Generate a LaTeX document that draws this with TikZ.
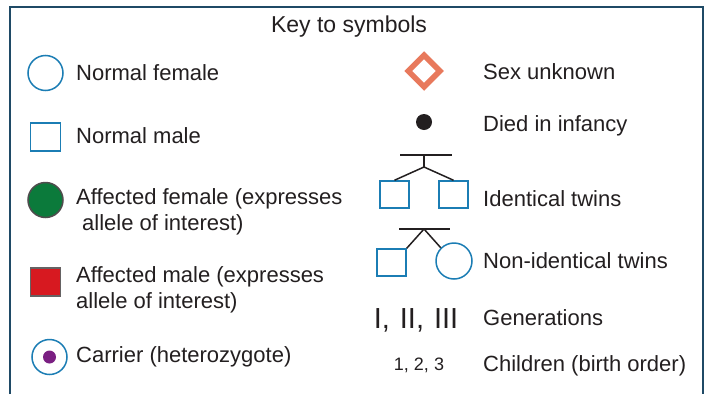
\documentclass[tikz,border=0pt]{standalone}
\usepackage{fontspec}
\setmainfont{Liberation Sans}
\usetikzlibrary{shapes.geometric}
\definecolor{frame}{HTML}{1F4A66}
\definecolor{sblue}{HTML}{1B7DB4}
\definecolor{sgreen}{HTML}{0B7A3B}
\definecolor{sred}{HTML}{D71920}
\definecolor{spurple}{HTML}{7A1F82}
\definecolor{sorange}{HTML}{E8795C}
\definecolor{txt}{HTML}{231F20}
\begin{document}
\begin{tikzpicture}[x=1pt,y=-1pt,
  lbl/.style={anchor=west,inner sep=0pt,text=txt,font=\fontsize{22}{26}\selectfont,align=left},
  fem/.style={circle,draw=sblue,line width=1.5pt,minimum size=35pt,inner sep=0pt},
  mal/.style={rectangle,draw=sblue,line width=1.5pt,minimum width=30pt,minimum height=28pt,inner sep=0pt},
  link/.style={draw=txt,line width=1.5pt}]
\useasboundingbox (0,0) rectangle (706,394);
\fill[white] (0,0) rectangle (706,394);
\draw[frame,line width=2pt] (10,394) -- (10,7) -- (703,7) -- (703,394);
\node[lbl,anchor=center,font=\fontsize{23}{26}\selectfont] (title) at (349,27) {Key to symbols};
% left column
\node[fem] (nf) at (45.5,73) {};
\node[lbl] (nft) at (76,73) {Normal female};
\node[mal] (nm) at (45.5,137) {};
\node[lbl] (nmt) at (76,136) {Normal male};
\node[fem,fill=sgreen,draw=txt!80] (af) at (45.5,200) {};
\node[lbl] (aft) at (76,212) {Affected female (expresses\\\hspace*{6pt}allele of interest)};
\node[mal,fill=sred,draw=txt!70] (am) at (45.5,282) {};
\node[lbl] (amt) at (76,290) {Affected male (expresses\\allele of interest)};
\node[fem] (cr) at (49.5,357) {};
\fill[spurple] (cr.center) circle (6.5pt);
\node[lbl] (crt) at (76,357) {Carrier (heterozygote)};
% right column
\node[diamond,draw=sorange,line width=5.5pt,minimum size=34pt,inner sep=0pt] (su) at (424,71) {};
\node[lbl] (sut) at (483,72) {Sex unknown};
\node[circle,fill=txt,minimum size=16pt,inner sep=0pt] (di) at (424,122) {};
\node[lbl] (dit) at (483,126) {Died in infancy};
% identical twins
\coordinate (ibl) at (400,155);
\coordinate (ibr) at (452,155);
\coordinate (itop) at (424,155);
\coordinate (istem) at (424,167);
\node[mal,minimum width=29pt,minimum height=27pt] (it1) at (394.5,194.5) {};
\node[mal,minimum width=29pt,minimum height=27pt] (it2) at (453.5,194.5) {};
\draw[link] (ibl) -- (ibr);
\draw[link] (itop) -- (istem);
\draw[link] (istem) -- (it1.north);
\draw[link] (istem) -- (it2.north);
\node[lbl] (itt) at (483,199) {Identical twins};
% non-identical twins
\coordinate (nbl) at (399,229);
\coordinate (nbr) at (450,229);
\coordinate (nbc) at (424,229);
\node[mal,minimum width=29pt,minimum height=27pt] (nt1) at (391.5,262.5) {};
\node[fem,minimum size=36pt] (nt2) at (454,261) {};
\draw[link] (nbl) -- (nbr);
\draw[link] (nbc) -- (nt1.north east);
\draw[link] (nbc) -- (nt2.north west);
\node[lbl] (ntt) at (483,261) {Non-identical twins};
% generations
\node[lbl,anchor=center,font=\fontsize{29}{32}\selectfont] (gen) at (416,320) {I,\hspace{10pt}II,\hspace{10pt}III};
\node[lbl] (gent) at (483,318) {Generations};
\node[lbl,anchor=center,font=\fontsize{18}{22}\selectfont] (ch) at (419,365) {1, 2, 3};
\node[lbl] (cht) at (483,366) {Children (birth order)};
\end{tikzpicture}
\end{document}
